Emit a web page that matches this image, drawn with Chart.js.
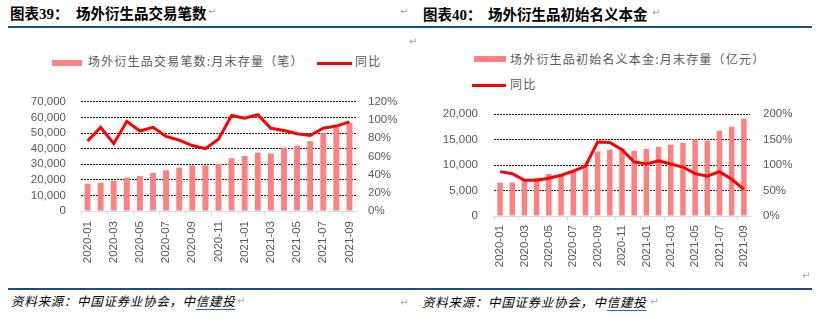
<!DOCTYPE html>
<html>
<head>
<meta charset="utf-8">
<script src="https://cdn.jsdelivr.net/npm/chart.js@4.4.0/dist/chart.umd.min.js"></script>
<style>
html, body { margin: 0; padding: 0; background: #fff; }
#page { position: relative; width: 821px; height: 327px; overflow: hidden; font-family: "Noto Sans CJK SC", sans-serif; }
.abs { position: absolute; white-space: nowrap; }
.title { font-weight: bold; font-size: 14.5px; line-height: 20px; color: #000; }
.title .num { font-family: "Liberation Serif", serif; font-size: 15px; }
.rule { position: absolute; left: 8px; width: 804px; height: 2px; background: #1c4f80; }
.mark { font-family: "DejaVu Sans", sans-serif; font-size: 10px; color: #a6a6a6; line-height: 12px; }
.legtxt { font-size: 12px; letter-spacing: 1.2px; color: #595959; line-height: 16px; }
.swatch-bar { position: absolute; height: 6px; background: #FF8080; }
.swatch-line { position: absolute; height: 3px; background: #FF0000; }
.src { font-size: 12.5px; font-style: italic; letter-spacing: 0.7px; color: #000; line-height: 16px; }
.src u { text-decoration: underline; text-decoration-color: #2f62d6; text-underline-offset: 3px; }
canvas { position: absolute; }
</style>
</head>
<body>
<div id="page">
  <!-- headings -->
  <div class="abs title" style="left:10px;top:3px;">图表<span class="num">39</span>：</div>
  <div class="abs title" style="left:76px;top:3px;">场外衍生品交易笔数</div>
  <div class="abs mark" style="left:208px;top:6px;">↵</div>
  <div class="abs mark" style="left:400px;top:6px;">↵</div>
  <div class="abs title" style="left:423px;top:4px;">图表<span class="num">40</span>：</div>
  <div class="abs title" style="left:488px;top:4px;">场外衍生品初始名义本金</div>
  <div class="abs mark" style="left:652px;top:7px;">↵</div>
  <div class="rule" style="top:26px;"></div>
  <div class="abs mark" style="left:409px;top:36px;">↵</div>

  <!-- legend, left chart -->
  <div class="swatch-bar" style="left:52px;top:60px;width:30px;"></div>
  <div class="abs legtxt" style="left:88px;top:53px;">场外衍生品交易笔数:月末存量（笔）</div>
  <div class="swatch-line" style="left:317px;top:62px;width:35px;"></div>
  <div class="abs legtxt" style="left:355px;top:53px;">同比</div>

  <!-- legend, right chart -->
  <div class="swatch-bar" style="left:474px;top:56px;width:32px;"></div>
  <div class="abs legtxt" style="left:510px;top:51px;">场外衍生品初始名义本金:月末存量（亿元）</div>
  <div class="swatch-line" style="left:472px;top:84px;width:34px;"></div>
  <div class="abs legtxt" style="left:510px;top:76px;">同比</div>

  <canvas id="chartTrades" width="410" height="200" style="left:0px;top:80px;"></canvas>
  <canvas id="chartNotional" width="411" height="200" style="left:410px;top:80px;"></canvas>

  <div class="abs mark" style="left:802px;top:270px;">↵</div>
  <div class="rule" style="top:288px;"></div>

  <!-- sources -->
  <div class="abs src" style="left:11px;top:293px;">资料来源：中国证券业协会，中<u>信建投</u></div>
  <div class="abs mark" style="left:237px;top:295px;">↵</div>
  <div class="abs mark" style="left:400px;top:297px;">↵</div>
  <div class="abs src" style="left:422px;top:294px;">资料来源：中国证券业协会，中<u>信建投</u></div>
  <div class="abs mark" style="left:650px;top:296px;">↵</div>
</div>

<script>
// Monthly categories
const months = [
  '2020-01','2020-02','2020-03','2020-04','2020-05','2020-06','2020-07',
  '2020-08','2020-09','2020-10','2020-11','2020-12','2021-01','2021-02',
  '2021-03','2021-04','2021-05','2021-06','2021-07','2021-08','2021-09'
];

// OTC derivatives: number of trades, month-end stock (笔)
const tradeCount = [
  17500, 18100, 19400, 21400, 22400, 24400, 26200,
  27800, 29200, 29200, 30200, 33900, 35300, 37500,
  36900, 40700, 41900, 44800, 49800, 53600, 56500
];
// Year-on-year change of the trade count (%)
const tradeYoY = [
  77, 92, 74, 98.6, 88, 92, 82,
  78, 72, 68.5, 79, 105, 102, 106,
  91, 88.6, 85, 83, 91, 93.4, 98
];

// OTC derivatives: initial notional principal, month-end stock (亿元)
const notional = [
  6560, 6560, 7080, 7480, 8260, 8000, 8720,
  9700, 12660, 13000, 13310, 12790, 13180, 13570,
  13970, 14360, 15020, 14750, 16720, 17510, 19080
];
// Year-on-year change of the notional principal (%)
const notionalYoY = [
  87, 83, 70, 70, 74, 80, 88,
  98, 145, 144, 130, 106, 102, 108,
  102, 96, 83, 78, 87, 72, 52
];

const barLabels = ['场外衍生品交易笔数:月末存量（笔）', '场外衍生品初始名义本金:月末存量（亿元）'];
const lineLabel = '同比';

const tickFont = { family: 'Liberation Sans, Arial, sans-serif', size: 11.5 };
const tickColor = '#595959';
const clear = 'rgba(0,0,0,0)';

function comboChart(id, barLabel, bars, line, cfg) {
  return new Chart(document.getElementById(id), {
    data: {
      labels: months,
      datasets: [
        {
          type: 'line', label: lineLabel, data: line, yAxisID: 'yR', order: 1,
          borderColor: '#FF0000', borderWidth: 3, pointRadius: 0, tension: 0, fill: false
        },
        {
          type: 'bar', label: barLabel, data: bars, yAxisID: 'yL', order: 2,
          backgroundColor: '#FF8080', barPercentage: 0.45, categoryPercentage: 1
        }
      ]
    },
    options: {
      responsive: false,
      animation: false,
      devicePixelRatio: 1,
      layout: { padding: { top: cfg.plotTop, left: 0, right: 0, bottom: 0 } },
      plugins: { legend: { display: false }, tooltip: { enabled: false } },
      scales: {
        x: {
          type: 'category',
          offset: true,
          grid: {
            offset: true, drawOnChartArea: false, drawTicks: true, tickLength: 4,
            color: ctx => (ctx.index % 2 === 0 ? '#d9d9d9' : clear)
          },
          border: { display: true, color: '#d9d9d9', width: 1 },
          ticks: {
            autoSkip: false, minRotation: 90, maxRotation: 90,
            padding: cfg.xPad, color: tickColor, font: tickFont,
            callback: (v, i) => (i % 2 === 0 ? months[i] : '')
          },
          afterFit: s => { s.height = cfg.height - cfg.plotBottom; }
        },
        yL: {
          position: 'left', min: 0, max: cfg.leftMax,
          grid: {
            drawTicks: false,
            color: ctx => (ctx.tick && ctx.tick.value === 0 ? clear : '#1a1a1a')
          },
          border: { display: false, dash: [2, 1] },
          ticks: {
            autoSkip: false, stepSize: cfg.leftStep, padding: cfg.leftPad,
            color: tickColor, font: tickFont,
            callback: v => v.toLocaleString('en-US')
          },
          afterFit: s => { s.width = cfg.plotLeft; }
        },
        yR: {
          position: 'right', min: 0, max: cfg.rightMax,
          grid: { drawOnChartArea: false, drawTicks: false },
          border: { display: false },
          ticks: {
            autoSkip: false, stepSize: cfg.rightStep, padding: cfg.rightPad,
            color: tickColor, font: tickFont,
            callback: v => v + '%'
          },
          afterFit: s => { s.width = cfg.width - cfg.plotRight; }
        }
      }
    }
  });
}

comboChart('chartTrades', barLabels[0], tradeCount, tradeYoY, {
  width: 410, height: 200,
  plotLeft: 81, plotRight: 356, plotTop: 15, plotBottom: 131,
  leftMax: 70000, leftStep: 10000, rightMax: 120, rightStep: 20,
  leftPad: 15, rightPad: 12, xPad: 6
});

comboChart('chartNotional', barLabels[1], notional, notionalYoY, {
  width: 411, height: 200,
  plotLeft: 84, plotRight: 340, plotTop: 34, plotBottom: 136,
  leftMax: 20000, leftStep: 5000, rightMax: 200, rightStep: 50,
  leftPad: 16, rightPad: 13, xPad: 5
});
</script>
</body>
</html>
